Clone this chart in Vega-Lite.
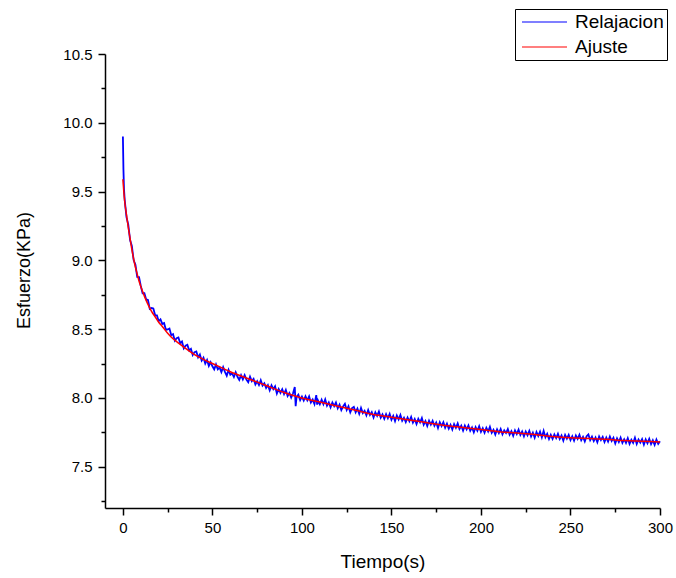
{
  "$schema": "https://vega.github.io/schema/vega-lite/v6.json",
  "width": 555,
  "height": 454,
  "autosize": {"type": "none"},
  "padding": {"left": 105, "top": 54, "right": 16, "bottom": 70},
  "background": "white",
  "config": {
    "view": {"stroke": null},
    "font": "Liberation Sans",
    "axis": {
      "grid": false,
      "domainColor": "black",
      "domainWidth": 1.5,
      "tickColor": "black",
      "tickWidth": 1.5,
      "labelColor": "black",
      "titleColor": "black",
      "labelFont": "Liberation Sans",
      "titleFont": "Liberation Sans",
      "labelFontSize": 15,
      "titleFontWeight": "normal"
    }
  },
  "datasets": {
    "relax": [
      {"t":0,"v":9.90},{"t":0.3,"v":9.66},{"t":0.6,"v":9.52},
      {"t":1,"v":9.44},{"t":2,"v":9.314},{"t":3,"v":9.26},{"t":4,"v":9.148},{"t":5,"v":9.104},{"t":6,"v":9.002},{"t":7,"v":8.968},{"t":8,"v":8.88},{"t":9,"v":8.878},{"t":10,"v":8.814},
      {"t":11,"v":8.761},{"t":12,"v":8.762},{"t":13,"v":8.716},{"t":14,"v":8.712},{"t":15,"v":8.647},{"t":16,"v":8.654},{"t":17,"v":8.65},{"t":18,"v":8.602},{"t":19,"v":8.60},{"t":20,"v":8.558},
      {"t":21,"v":8.571},{"t":22,"v":8.538},{"t":23,"v":8.544},{"t":24,"v":8.495},{"t":25,"v":8.498},{"t":26,"v":8.505},{"t":27,"v":8.456},{"t":28,"v":8.464},{"t":29,"v":8.416},{"t":30,"v":8.434},
      {"t":31,"v":8.44},{"t":32,"v":8.398},{"t":33,"v":8.41},{"t":34,"v":8.36},{"t":35,"v":8.38},{"t":36,"v":8.387},{"t":37,"v":8.346},{"t":38,"v":8.357},{"t":39,"v":8.312},{"t":40,"v":8.333},
      {"t":41,"v":8.338},{"t":42,"v":8.295},{"t":43,"v":8.316},{"t":44,"v":8.271},{"t":45,"v":8.292},{"t":46,"v":8.25},{"t":47,"v":8.276},{"t":48,"v":8.232},{"t":49,"v":8.26},{"t":50,"v":8.23},
      {"t":51,"v":8.208},{"t":52,"v":8.244},{"t":53,"v":8.208},{"t":54,"v":8.222},{"t":55,"v":8.188},{"t":56,"v":8.224},{"t":57,"v":8.19},{"t":58,"v":8.162},{"t":59,"v":8.204},{"t":60,"v":8.168},
      {"t":61,"v":8.179},{"t":62,"v":8.152},{"t":63,"v":8.187},{"t":64,"v":8.154},{"t":65,"v":8.131},{"t":66,"v":8.166},{"t":67,"v":8.135},{"t":68,"v":8.166},{"t":69,"v":8.133},{"t":70,"v":8.114},
      {"t":71,"v":8.155},{"t":72,"v":8.122},{"t":73,"v":8.139},{"t":74,"v":8.098},{"t":75,"v":8.121},{"t":76,"v":8.094},{"t":77,"v":8.129},{"t":78,"v":8.09},{"t":79,"v":8.107},{"t":80,"v":8.072},
      {"t":81,"v":8.093},{"t":82,"v":8.056},{"t":83,"v":8.091},{"t":84,"v":8.064},{"t":85,"v":8.085},{"t":86,"v":8.032},{"t":87,"v":8.065},{"t":88,"v":8.036},{"t":89,"v":8.063},{"t":90,"v":8.028},
      {"t":91,"v":8.058},{"t":92,"v":8.014},{"t":93,"v":8.036},{"t":94,"v":8.002},{"t":95,"v":8.032},{"t":96,"v":8.08},{"t":96.5,"v":7.94},{"t":97,"v":8.006},{"t":98,"v":8.024},{"t":99,"v":7.984},{"t":100,"v":8.01},
      {"t":101,"v":7.981},{"t":102,"v":8.012},{"t":103,"v":7.983},{"t":104,"v":8.012},{"t":105,"v":7.967},{"t":106,"v":7.988},{"t":107,"v":7.955},{"t":108,"v":8.02},{"t":108.5,"v":7.952},{"t":109,"v":7.981},{"t":110,"v":7.954},
      {"t":111,"v":7.987},{"t":112,"v":7.954},{"t":113,"v":7.989},{"t":114,"v":7.944},{"t":115,"v":7.967},{"t":116,"v":7.932},{"t":117,"v":7.967},{"t":118,"v":7.94},{"t":119,"v":7.967},{"t":120,"v":7.924},
      {"t":121,"v":7.951},{"t":122,"v":7.912},{"t":123,"v":7.939},{"t":124,"v":7.958},{"t":125,"v":7.913},{"t":126,"v":7.94},{"t":127,"v":7.895},{"t":128,"v":7.926},{"t":129,"v":7.935},{"t":130,"v":7.896},
      {"t":131,"v":7.923},{"t":132,"v":7.884},{"t":133,"v":7.927},{"t":134,"v":7.89},{"t":135,"v":7.907},{"t":136,"v":7.874},{"t":137,"v":7.913},{"t":138,"v":7.876},{"t":139,"v":7.897},{"t":140,"v":7.858},
      {"t":141,"v":7.896},{"t":142,"v":7.87},{"t":143,"v":7.902},{"t":144,"v":7.856},{"t":145,"v":7.88},{"t":146,"v":7.848},{"t":147,"v":7.882},{"t":148,"v":7.852},{"t":149,"v":7.884},{"t":150,"v":7.842},
      {"t":151,"v":7.87},{"t":152,"v":7.832},{"t":153,"v":7.872},{"t":154,"v":7.844},{"t":155,"v":7.876},{"t":156,"v":7.834},{"t":157,"v":7.856},{"t":158,"v":7.824},{"t":159,"v":7.858},{"t":160,"v":7.83},
      {"t":161,"v":7.862},{"t":162,"v":7.82},{"t":163,"v":7.846},{"t":164,"v":7.81},{"t":165,"v":7.848},{"t":166,"v":7.822},{"t":167,"v":7.854},{"t":168,"v":7.806},{"t":169,"v":7.832},{"t":170,"v":7.796},
      {"t":171,"v":7.834},{"t":172,"v":7.806},{"t":173,"v":7.834},{"t":174,"v":7.798},{"t":175,"v":7.822},{"t":176,"v":7.782},{"t":177,"v":7.824},{"t":178,"v":7.796},{"t":179,"v":7.824},{"t":180,"v":7.784},
      {"t":181,"v":7.813},{"t":182,"v":7.777},{"t":183,"v":7.805},{"t":184,"v":7.77},{"t":185,"v":7.81},{"t":186,"v":7.783},{"t":187,"v":7.815},{"t":188,"v":7.774},{"t":189,"v":7.798},{"t":190,"v":7.763},
      {"t":191,"v":7.799},{"t":192,"v":7.772},{"t":193,"v":7.80},{"t":194,"v":7.761},{"t":195,"v":7.785},{"t":196,"v":7.75},{"t":197,"v":7.788},{"t":198,"v":7.761},{"t":199,"v":7.795},{"t":200,"v":7.754},
      {"t":201,"v":7.78},{"t":202,"v":7.747},{"t":203,"v":7.783},{"t":204,"v":7.756},{"t":205,"v":7.79},{"t":206,"v":7.747},{"t":207,"v":7.769},{"t":208,"v":7.734},{"t":209,"v":7.772},{"t":210,"v":7.745},
      {"t":211,"v":7.774},{"t":212,"v":7.735},{"t":213,"v":7.764},{"t":214,"v":7.745},{"t":215,"v":7.774},{"t":216,"v":7.733},{"t":217,"v":7.758},{"t":218,"v":7.725},{"t":219,"v":7.764},{"t":220,"v":7.737},
      {"t":221,"v":7.77},{"t":222,"v":7.731},{"t":223,"v":7.756},{"t":224,"v":7.721},{"t":225,"v":7.756},{"t":226,"v":7.729},{"t":227,"v":7.76},{"t":228,"v":7.719},{"t":229,"v":7.748},{"t":230,"v":7.711},
      {"t":231,"v":7.752},{"t":232,"v":7.724},{"t":233,"v":7.755},{"t":234,"v":7.713},{"t":235,"v":7.76},{"t":236,"v":7.714},{"t":237,"v":7.739},{"t":238,"v":7.701},{"t":239,"v":7.732},{"t":240,"v":7.702},
      {"t":241,"v":7.735},{"t":242,"v":7.708},{"t":243,"v":7.739},{"t":244,"v":7.702},{"t":245,"v":7.727},{"t":246,"v":7.69},{"t":247,"v":7.731},{"t":248,"v":7.704},{"t":249,"v":7.731},{"t":250,"v":7.694},
      {"t":251,"v":7.722},{"t":252,"v":7.689},{"t":253,"v":7.727},{"t":254,"v":7.702},{"t":255,"v":7.732},{"t":256,"v":7.693},{"t":257,"v":7.717},{"t":258,"v":7.684},{"t":259,"v":7.722},{"t":260,"v":7.735},
      {"t":261,"v":7.693},{"t":262,"v":7.718},{"t":263,"v":7.686},{"t":264,"v":7.713},{"t":265,"v":7.678},{"t":266,"v":7.72},{"t":267,"v":7.694},{"t":268,"v":7.717},{"t":269,"v":7.68},{"t":270,"v":7.712},
      {"t":271,"v":7.683},{"t":272,"v":7.72},{"t":273,"v":7.687},{"t":274,"v":7.71},{"t":275,"v":7.669},{"t":276,"v":7.706},{"t":277,"v":7.679},{"t":278,"v":7.712},{"t":279,"v":7.673},{"t":280,"v":7.70},
      {"t":281,"v":7.673},{"t":282,"v":7.707},{"t":283,"v":7.666},{"t":284,"v":7.696},{"t":285,"v":7.673},{"t":286,"v":7.711},{"t":287,"v":7.666},{"t":288,"v":7.698},{"t":289,"v":7.675},{"t":290,"v":7.701},
      {"t":291,"v":7.66},{"t":292,"v":7.698},{"t":293,"v":7.671},{"t":294,"v":7.703},{"t":295,"v":7.664},{"t":296,"v":7.692},{"t":297,"v":7.659},{"t":298,"v":7.697},{"t":299,"v":7.666},{"t":300,"v":7.686}
    ],
    "fit": [
      {"t":0,"v":9.59},{"t":0.5,"v":9.50},{"t":1,"v":9.43},{"t":2,"v":9.33},{"t":3,"v":9.24},{"t":4,"v":9.16},{"t":5,"v":9.08},{"t":6,"v":9.01},{"t":7,"v":8.95},{"t":8,"v":8.90},{"t":9,"v":8.85},{"t":10,"v":8.81},
      {"t":12,"v":8.74},{"t":14,"v":8.68},{"t":16,"v":8.63},{"t":18,"v":8.59},{"t":20,"v":8.55},{"t":22,"v":8.52},{"t":25,"v":8.47},{"t":28,"v":8.43},{"t":30,"v":8.41},{"t":35,"v":8.36},{"t":40,"v":8.315},
      {"t":45,"v":8.28},{"t":50,"v":8.25},{"t":55,"v":8.22},{"t":60,"v":8.19},{"t":70,"v":8.14},{"t":80,"v":8.09},{"t":90,"v":8.04},{"t":100,"v":8.00},{"t":110,"v":7.97},{"t":120,"v":7.94},{"t":130,"v":7.91},
      {"t":140,"v":7.88},{"t":150,"v":7.86},{"t":160,"v":7.84},{"t":170,"v":7.82},{"t":180,"v":7.80},{"t":190,"v":7.785},{"t":200,"v":7.77},{"t":210,"v":7.755},{"t":220,"v":7.745},{"t":230,"v":7.735},
      {"t":240,"v":7.72},{"t":250,"v":7.71},{"t":260,"v":7.705},{"t":270,"v":7.70},{"t":280,"v":7.69},{"t":290,"v":7.685},{"t":300,"v":7.68}
    ]
  },
  "resolve": {"axis": {"x": "independent", "y": "independent"}},
  "layer": [
    {
      "data": {"name": "relax"},
      "mark": {"type": "line", "strokeWidth": 1.8, "interpolate": "linear"},
      "encoding": {
        "x": {
          "field": "t", "type": "quantitative",
          "scale": {"domain": [-10, 300], "nice": false, "zero": false},
          "axis": {
            "orient": "bottom",
            "values": [0, 50, 100, 150, 200, 250, 300],
            "tickSize": 7, "labelPadding": 5, "labelFlush": false,
            "title": "Tiempo(s)", "titleFontSize": 19, "titleY": 59, "titleBaseline": "alphabetic"
          }
        },
        "y": {
          "field": "v", "type": "quantitative",
          "scale": {"domain": [7.2, 10.5], "nice": false, "zero": false},
          "axis": {
            "orient": "left",
            "values": [7.5, 8.0, 8.5, 9.0, 9.5, 10.0, 10.5],
            "format": ".1f",
            "tickSize": 7, "labelPadding": 6, "labelFlush": false,
            "title": "Esfuerzo(KPa)", "titleFontSize": 18, "titleX": -81, "titleY": 216,
            "titleAngle": -90, "titleAlign": "center", "titleBaseline": "middle"
          }
        },
        "color": {
          "datum": "Relajacion", "type": "nominal",
          "scale": {"domain": ["Relajacion", "Ajuste"], "range": ["#0000ff", "#ff0000"]},
          "legend": {
            "title": null,
            "orient": "none",
            "legendX": 410,
            "legendY": -45,
            "strokeColor": "black",
            "padding": 3,
            "symbolType": "stroke",
            "symbolSize": 2025,
            "symbolStrokeWidth": 1.2,
            "symbolOffset": 3,
            "clipHeight": 20,
            "rowPadding": 5,
            "labelOffset": 7,
            "labelFont": "Liberation Sans",
            "labelFontSize": 19,
            "labelColor": "black"
          }
        }
      }
    },
    {
      "data": {"name": "fit"},
      "mark": {"type": "line", "strokeWidth": 1.5, "interpolate": "monotone"},
      "encoding": {
        "x": {
          "field": "t", "type": "quantitative",
          "axis": {
            "orient": "bottom",
            "values": [25, 75, 125, 175, 225, 275],
            "labels": false, "domain": false, "tickSize": 4, "title": null
          }
        },
        "y": {
          "field": "v", "type": "quantitative",
          "axis": {
            "orient": "left",
            "values": [7.25, 7.75, 8.25, 8.75, 9.25, 9.75, 10.25],
            "labels": false, "domain": false, "tickSize": 4, "title": null
          }
        },
        "color": {"datum": "Ajuste", "type": "nominal"}
      }
    }
  ]
}
